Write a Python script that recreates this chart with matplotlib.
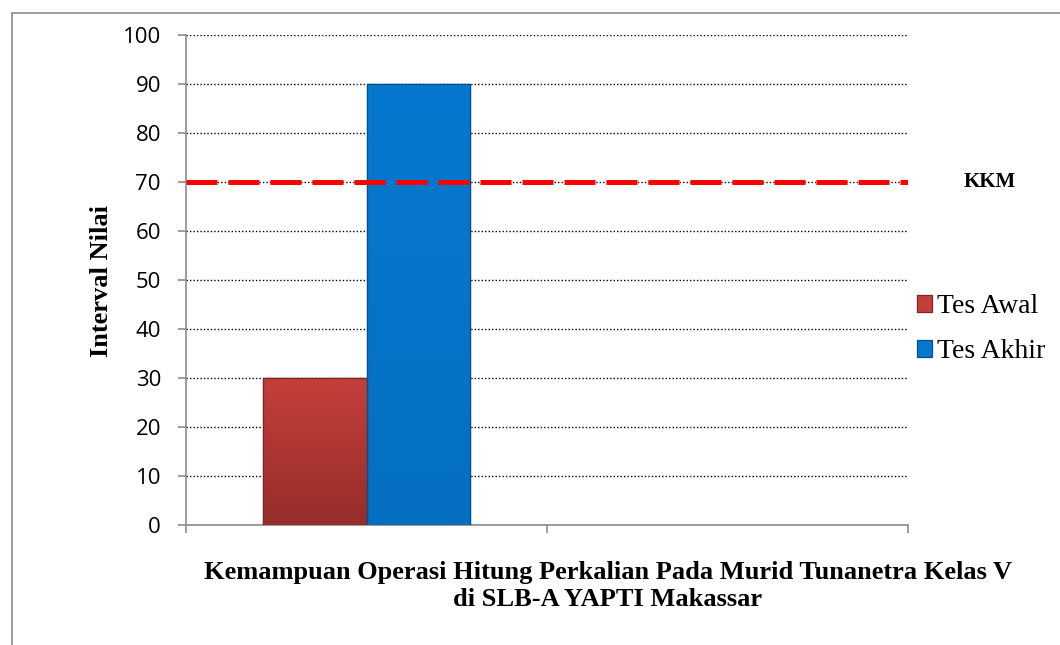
import numpy as np
import matplotlib.pyplot as plt
from matplotlib.patches import Rectangle

categories = ["Kemampuan", ""]
tes_awal = [30, 0]
tes_akhir = [90, 0]
kkm = 70
y_ticks = [0, 10, 20, 30, 40, 50, 60, 70, 80, 90, 100]

fig = plt.figure(figsize=(10.6, 6.45), dpi=100)
ax = fig.add_axes([186 / 1060, 1 - 525 / 645, (908 - 186) / 1060, (525 - 35) / 645])

# outer chart border
fig.patches.append(Rectangle((12 / 1060, -0.1), 1.2, 1 - 13 / 645 + 0.1,
                             transform=fig.transFigure, fill=False,
                             edgecolor="#8c8c8c", linewidth=1.2))


def shaded_bar(xc, h, w, top, bottom, edge, label):
    bars = ax.bar([xc], [h], width=w, color=top, edgecolor=edge,
                  linewidth=0.9, label=label, zorder=3)
    if h <= 0:
        return
    grad = np.linspace(0, 1, 100).reshape(-1, 1)
    c1 = np.array(plt.matplotlib.colors.to_rgb(top))
    c2 = np.array(plt.matplotlib.colors.to_rgb(bottom))
    img = c1 * (1 - grad[..., None]) + c2 * grad[..., None]
    im = ax.imshow(img, extent=[xc - w / 2, xc + w / 2, 0, h], origin="upper",
                   aspect="auto", zorder=3.1)
    im.set_clip_path(bars[0])
    ax.bar([xc], [h], width=w, fill=False, edgecolor=edge, linewidth=0.9, zorder=3.2)


x = [0, 1]
w = 0.287
shaded_bar(x[0] - w / 2, tes_awal[0], w, "#C43F3A", "#962D2A", "#7E2522", "Tes Awal")
shaded_bar(x[0] + w / 2, tes_akhir[0], w, "#0778CF", "#0570C2", "#04508F", "Tes Akhir")

ax.axhline(kkm, color="#FF0000", linewidth=3.6, dashes=(6.2, 2.2), zorder=4)

ax.set_xlim(-0.5, 1.5)
ax.set_ylim(0, 100)
ax.set_yticks(y_ticks)
ax.set_xticks([-0.5, 0.5, 1.5])
ax.set_xticklabels([])
ax.yaxis.grid(True, color="black", linestyle=(0, (1, 1.5)), linewidth=1.0, zorder=0)
ax.set_axisbelow(True)

for side in ["top", "right"]:
    ax.spines[side].set_visible(False)
for side in ["left", "bottom"]:
    ax.spines[side].set_color("#8c8c8c")
    ax.spines[side].set_linewidth(1.2)
ax.tick_params(axis="both", direction="out", length=6, color="#8c8c8c", width=1.2)
ax.tick_params(axis="y", labelsize=16, pad=12)
for lbl in ax.get_yticklabels():
    lbl.set_family("Open Sans")

fig.text(102 / 1060, 1 - 281 / 645, "Interval Nilai", rotation=90,
         ha="center", va="center", fontsize=19, fontweight="bold",
         family="Liberation Serif")

fig.text(608 / 1060, 1 - 586 / 645,
         "Kemampuan Operasi Hitung Perkalian Pada Murid Tunanetra Kelas V\ndi SLB-A YAPTI Makassar",
         ha="center", va="center", fontsize=19, fontweight="bold",
         family="Liberation Serif", linespacing=1.2)

fig.text(990 / 1060, 1 - 182 / 645, "KKM", ha="center", va="center",
         fontsize=15, fontweight="bold", family="Liberation Serif")

fig.legend(loc="center left", bbox_to_anchor=(917 / 1060, 1 - 329 / 645),
           bbox_transform=fig.transFigure, frameon=False,
           prop={"family": "Liberation Serif", "size": 20},
           handlelength=0.55, handleheight=0.55, handletextpad=0.18,
           labelspacing=0.72, borderpad=0, borderaxespad=0)

fig.savefig("out.png", dpi=100)
